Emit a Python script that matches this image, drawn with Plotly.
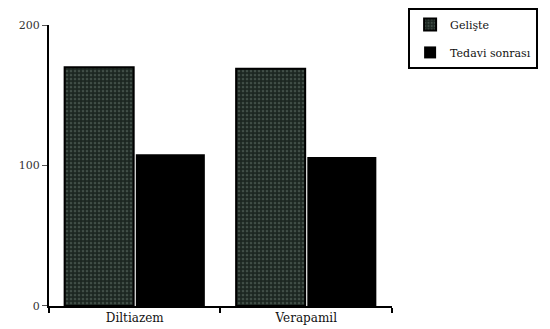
import plotly.graph_objects as go

categories = ["Diltiazem", "Verapamil"]
geliste = [170, 169]
tedavi = [108, 106]
y_ticks = [0, 100, 200]
y_tick_labels = ["0", "100", "200"]

font_family = "DejaVu Serif"

fig = go.Figure()
fig.add_trace(go.Bar(
    name="Gelişte", x=categories, y=geliste, legendgroup="a",
    marker=dict(
        color="#26302b",
        line=dict(color="#000000", width=2),
        pattern=dict(shape=".", fgcolor="#66766d", bgcolor="#1c2621", size=4, solidity=0.35),
    ),
))
fig.add_trace(go.Bar(
    name="Tedavi sonrası", x=categories, y=tedavi, legendgroup="b",
    marker=dict(color="#000000", line=dict(width=0)),
))

fig.update_layout(
    width=542, height=321,
    margin=dict(l=41, r=5, t=2, b=23, autoexpand=False),
    paper_bgcolor="white", plot_bgcolor="white",
    barmode="group", bargap=0.17, bargroupgap=0.03,
    font=dict(family=font_family, size=12, color="#111111"),
    showlegend=True,
    legend=dict(
        x=0.724, y=1.007, xanchor="left", yanchor="top",
        bordercolor="#000000", borderwidth=2, bgcolor="white",
        font=dict(family=font_family, size=11, color="#111111"),
        tracegroupgap=9,
    ),
)
fig.update_xaxes(
    domain=[0, 0.6915],
    range=[-0.5, 1.5], showgrid=False, zeroline=False,
    showline=True, linecolor="#000000", linewidth=2,
    ticks="outside", tickson="boundaries", ticklen=5, tickcolor="#000000", tickwidth=2,
    tickfont=dict(family=font_family, size=12),
)
fig.update_yaxes(
    domain=[0, 0.949],
    range=[0, 200], tickvals=y_ticks, ticktext=y_tick_labels,
    showgrid=False, zeroline=False,
    showline=True, linecolor="#000000", linewidth=2,
    ticks="outside", ticklen=5, tickcolor="#555555", tickwidth=1,
    tickfont=dict(family=font_family, size=11, color="#333333"),
)

fig.write_html("out.html")
